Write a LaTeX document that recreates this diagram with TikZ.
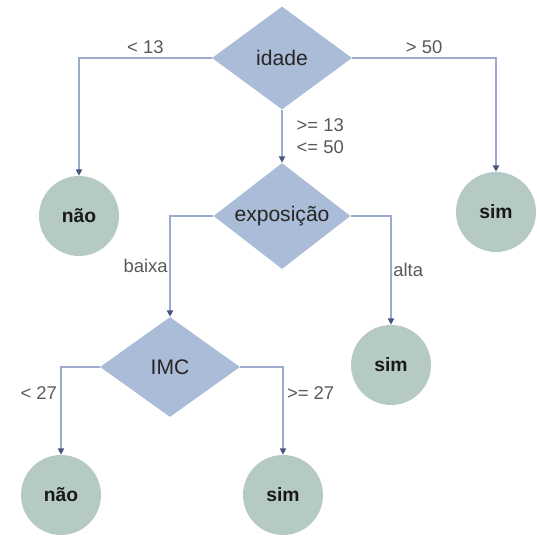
\documentclass[tikz,border=0pt]{standalone}
\usepackage{fontspec}
\setmainfont{Liberation Sans}
\usepackage{tikz}
\usetikzlibrary{shapes.geometric}
\usetikzlibrary{arrows.meta}

\definecolor{testfill}{RGB}{170,188,215}
\definecolor{leaffill}{RGB}{182,202,197}
\definecolor{branchline}{RGB}{155,170,205}
\definecolor{tipcolor}{RGB}{70,85,130}

\begin{document}
\begin{tikzpicture}[
    test/.style={diamond, fill=testfill, inner sep=0pt, aspect=1.33,
        font=\fontsize{12}{14}\selectfont, text=black!85},
    leaf/.style={circle, fill=leaffill, minimum size=1.6cm, inner sep=0pt,
        font=\fontsize{11}{13}\selectfont\bfseries, text=black!90},
    branch/.style={draw=branchline, line width=0.6pt,
        -{Triangle[length=3.5pt, width=3.5pt, color=tipcolor]}},
    cond/.style={font=\fontsize{10.5}{12.5}\selectfont, text=black!65, inner sep=2pt}
]
    \useasboundingbox (0,0) rectangle (10.74,10.74);
    % Tests
    \node[test, minimum width=2.8cm, minimum height=2.06cm] (idade) at (5.64,9.58) {idade};
    \node[test, minimum width=2.74cm, minimum height=2.12cm] (expo) at (5.64,6.42) {exposição};
    \node[test, minimum width=2.8cm, minimum height=2.0cm] (imc) at (3.40,3.40) {IMC};
    % Leaves
    \node[leaf] (nao1) at (1.58,6.42) {não};
    \node[leaf] (sim1) at (9.92,6.50) {sim};
    \node[leaf] (sim2) at (7.82,3.44) {sim};
    \node[leaf] (nao2) at (1.22,0.84) {não};
    \node[leaf] (sim3) at (5.66,0.84) {sim};
    % Branches of idade
    \draw[branch] (idade.west) -| (nao1.north) node[cond, pos=0.25, above] {< 13};
    \draw[branch] (idade.east) -| (sim1.north) node[cond, pos=0.25, above] {> 50};
    \draw[branch] (idade.south) -- (expo.north)
        node[cond, midway, right, align=left, xshift=6pt] {>= 13\\<= 50};
    % Branches of exposicao
    \draw[branch] (expo.west) -| (imc.north) node[cond, pos=0.75, left, inner sep=1pt] {baixa};
    \draw[branch] (expo.east) -| (sim2.north) node[cond, pos=0.75, right, inner sep=1pt] {alta};
    % Branches of IMC
    \draw[branch] (imc.west) -| (nao2.north) node[cond, pos=0.65, left] {< 27};
    \draw[branch] (imc.east) -| (sim3.north) node[cond, pos=0.65, right] {>= 27};
\end{tikzpicture}
\end{document}
